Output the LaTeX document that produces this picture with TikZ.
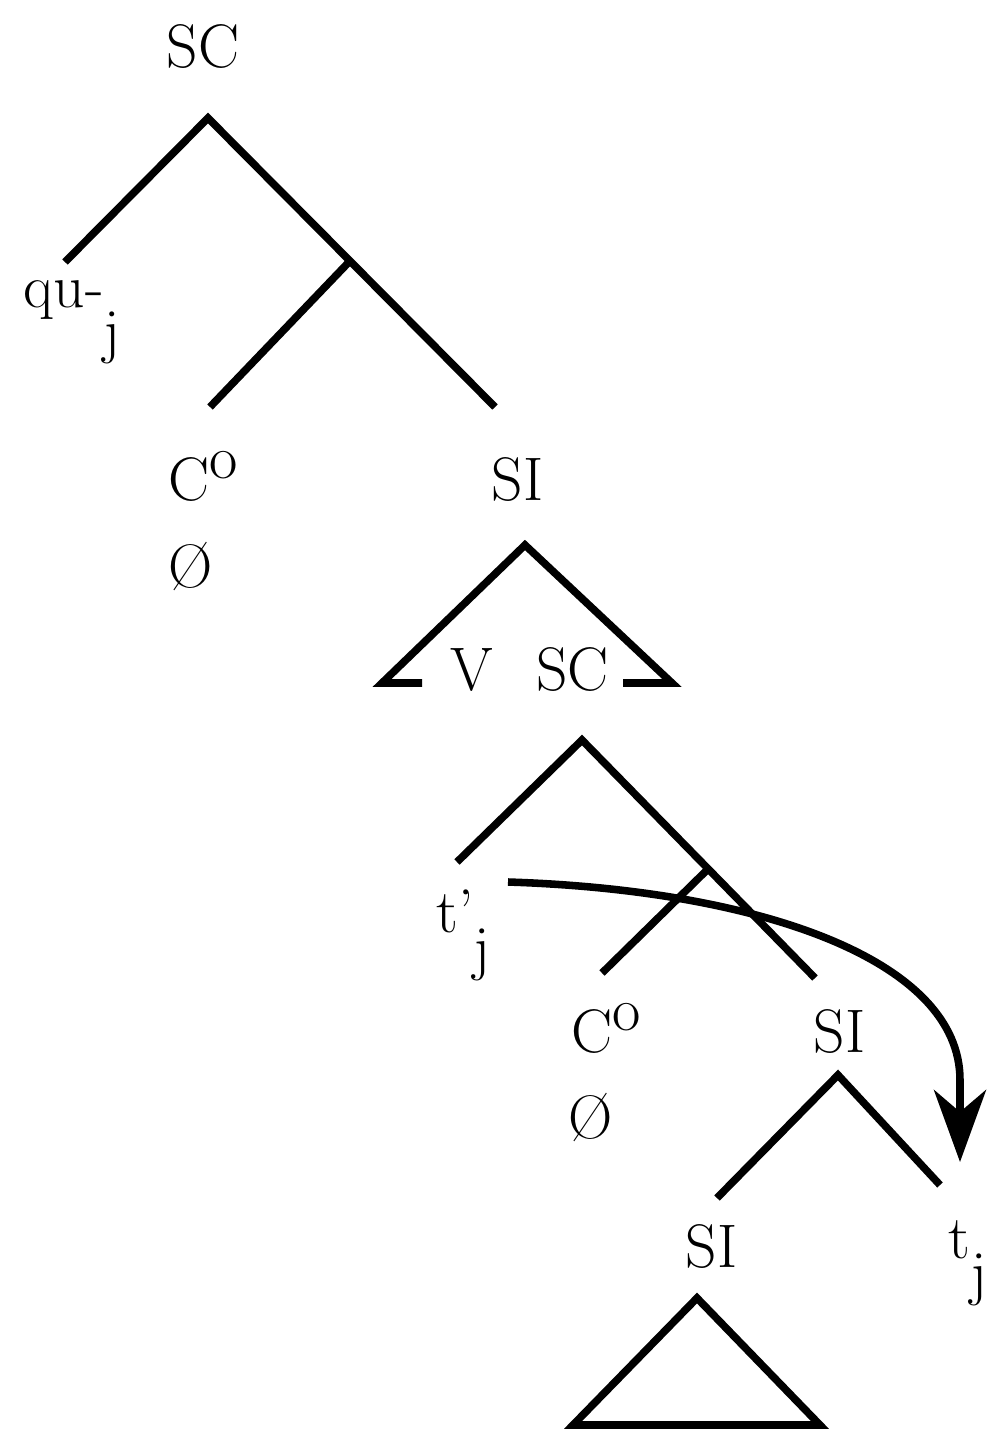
\documentclass[tikz,border=0pt]{standalone}
\usetikzlibrary{arrows.meta}
\tikzset{every path/.style={line width=4.3pt}}
\tikzset{lbl/.style={inner sep=0pt, anchor=base west, font=\fontsize{35}{40}\selectfont}}
\newcommand{\subj}[2]{#1\lower#2\hbox{j}}
\newcommand{\Czero}{C\raisebox{.35em}{o}}

\begin{document}
\begin{tikzpicture}[x=0.02cm,y=-0.02cm]
    \useasboundingbox (0,0) rectangle (987,1434);

    % upper SC
    \node[lbl] (sc1) at (163,67) {SC};
    \node[lbl] (qu) at (20,307) {\subj{qu-}{.73em}};
    \node[lbl] (co1) at (165,500) {\Czero};
    \node[lbl] (zero1) at (165,587) {\O};
    \node[lbl] (si1) at (488,500) {SI};
    \coordinate (top1) at (208,118);
    \coordinate (left1) at (65,262);
    \coordinate (mid1) at (348,263);
    \coordinate (right1) at (495,407);
    \coordinate (down1) at (210,407);
    \draw (left1) -- (top1) -- (right1);
    \draw (mid1) -- (down1);

    % SI as a triangle
    \node[lbl] (vsc) at (447,690) {V\hspace{.7em}SC};
    \coordinate (tri1) at (525,545);
    \coordinate (tri1l) at (382,683);
    \coordinate (tri1r) at (672,683);
    \coordinate (base1l) at (422,683);
    \coordinate (base1r) at (623,683);
    \draw (base1l) -- (tri1l) -- (tri1) -- (tri1r) -- (base1r);

    % lower SC
    \node[lbl] (tp) at (433,932) {\subj{t'}{.6em}};
    \node[lbl] (co2) at (568,1052) {\Czero};
    \node[lbl] (zero2) at (565,1138) {\O};
    \node[lbl] (si2) at (810,1052) {SI};
    \coordinate (top2) at (582,740);
    \coordinate (left2) at (457,862);
    \coordinate (mid2) at (707,870);
    \coordinate (right2) at (815,978);
    \coordinate (down2) at (602,973);
    \draw (left2) -- (top2) -- (right2);
    \draw (mid2) -- (down2);

    % SI -> SI t
    \node[lbl] (si3) at (682,1267) {SI};
    \node[lbl] (t) at (945,1258) {\subj{t}{.58em}};
    \coordinate (top3) at (838,1075);
    \coordinate (left3) at (717,1198);
    \coordinate (right3) at (940,1185);
    \draw (left3) -- (top3) -- (right3);

    \coordinate (tri2) at (697,1298);
    \coordinate (tri2l) at (573,1425);
    \coordinate (tri2r) at (820,1425);
    \draw (tri2) -- (tri2l) -- (tri2r) -- cycle;

    % movement
    \coordinate (from) at (508,882);
    \coordinate (to) at (960,1162);
    \draw[-{Stealth[length=1.44cm,width=1.04cm,inset=.44cm]}] (from) .. controls (760,890) and (960,960) .. (960,1080) -- (to);
\end{tikzpicture}
\end{document}
